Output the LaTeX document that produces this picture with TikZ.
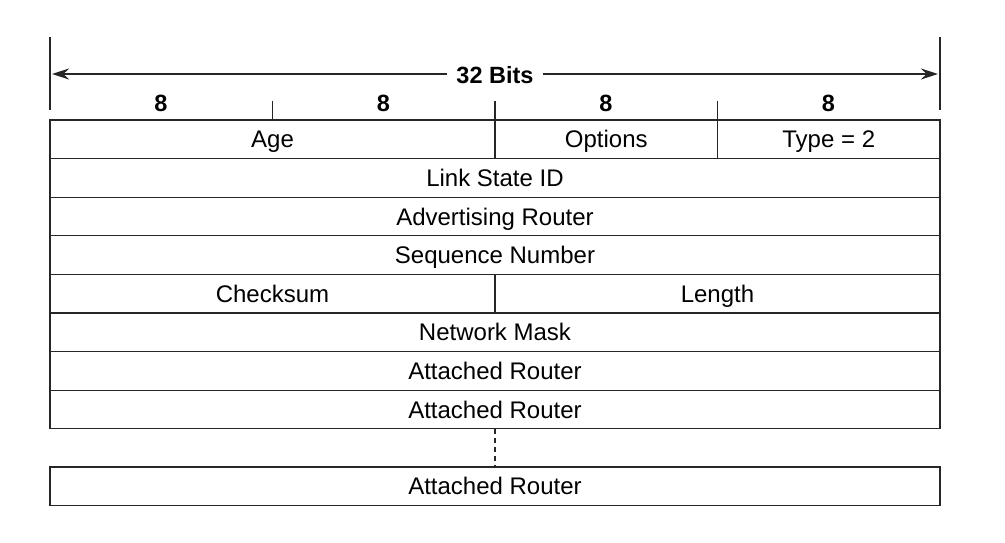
\documentclass[tikz,border=0pt]{standalone}
\usepackage{fontspec}
\setmainfont{Liberation Sans}
\usetikzlibrary{arrows.meta}
\begin{document}
\begin{tikzpicture}[x=1pt,y=-1pt,
  rule/.style={draw=black!85, line width=1.3pt},
  field/.style={rule, inner sep=0pt, outer sep=0pt, anchor=north west,
    minimum height=38.6pt, text height=17pt, text depth=0pt,
    font=\fontsize{24}{28}\selectfont},
  full/.style={field, minimum width=890pt},
  half/.style={field, minimum width=445pt},
  quarter/.style={field, minimum width=222.5pt},
  bitlabel/.style={font=\fontsize{23.5}{28}\selectfont\bfseries, inner sep=2pt,
    text height=16.5pt, text depth=0pt}]
\useasboundingbox (0,0) rectangle (1005,543);

% width scale above the packet
\draw[rule] (50,37) -- (50,110);
\draw[rule] (940,37) -- (940,110);
\coordinate (lend) at (52,74);
\coordinate (rend) at (938,74);
\node[bitlabel, inner xsep=9pt] (bits) at (495,75) {32 Bits};
\draw[rule, -{Stealth[length=17pt, width=11pt]}] (bits.west|-lend) -- (lend);
\draw[rule, -{Stealth[length=17pt, width=11pt]}] (bits.east|-rend) -- (rend);

\foreach \x/\n in {161/a,383.5/b,606/c,828.5/d}
  \node[bitlabel] (oct\n) at (\x,103) {8};
\foreach \x in {272.5,495,717.5}
  \draw[rule] (\x,101) -- (\x,120);

% LSA fields
\node[half]    (age)  at (50,120)    {Age};
\node[quarter] (opt)  at (495,120)   {Options};
\node[quarter] (type) at (717.5,120) {Type = 2};
\node[full] (lsid) at (50,158.6) {Link State ID};
\node[full] (adv)  at (50,197.2) {Advertising Router};
\node[full] (seq)  at (50,235.8) {Sequence Number};
\node[half] (cks)  at (50,274.4) {Checksum};
\node[half] (len)  at (495,274.4) {Length};
\node[full] (mask) at (50,313)   {Network Mask};
\node[full] (ar1)  at (50,351.6) {Attached Router};
\node[full] (ar2)  at (50,390.2) {Attached Router};
\node[full] (arn)  at (50,467)   {Attached Router};

\draw[draw=black!85, line width=1.3pt, dash pattern=on 5pt off 4pt] (ar2.south) -- (arn.north);
\end{tikzpicture}
\end{document}
